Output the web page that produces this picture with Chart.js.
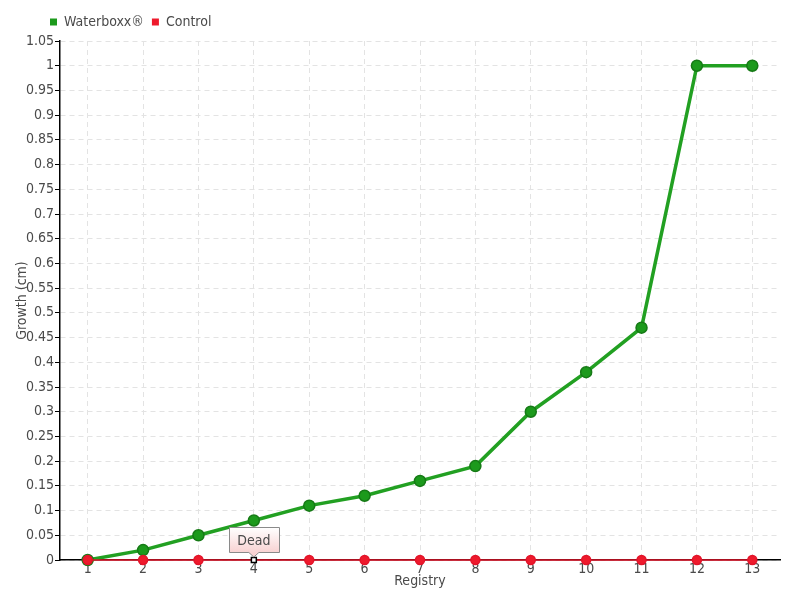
<!DOCTYPE html>
<html>
<head>
<meta charset="utf-8">
<script src="https://cdn.jsdelivr.net/npm/chart.js@4/dist/chart.umd.min.js"></script>
<style>
  html, body { margin: 0; padding: 0; background: #fff; }
  #wrap { width: 800px; height: 600px; }
</style>
</head>
<body>
<div id="wrap"><canvas id="myChart" width="800" height="600"></canvas></div>
<script>
let registry = ['1', '2', '3', '4', '5', '6', '7', '8', '9', '10', '11', '12', '13'];
let waterboxx = [0, 0.02, 0.05, 0.08, 0.11, 0.13, 0.16, 0.19, 0.30, 0.38, 0.47, 1.0, 1.0];
let control = [0, 0, 0, 0, 0, 0, 0, 0, 0, 0, 0, 0, 0];
let deadIndex = 3;
let deadLabel = 'Dead';

const FONT = '"DejaVu Sans Condensed", "Liberation Sans Narrow", sans-serif';
const TEXT = '#4a4a4a';

// white square marker where the control plant died
let controlStyles = control.map((v, i) => i === deadIndex ? 'rect' : 'circle');
let controlFill = control.map((v, i) => i === deadIndex ? '#ffffff' : '#ee1a2c');
let controlBorder = control.map((v, i) => i === deadIndex ? '#000000' : '#e3142a');
let controlRadius = control.map((v, i) => i === deadIndex ? 3.5 : 4.5);

// callout box above the dead point
const deadNote = {
    id: 'deadNote',
    afterLayout(chart) {
        // legend sits a bit in from the left edge
        let lg = chart.legend;
        if (lg) { lg.left += 28; lg.right += 28; lg.top -= 2; lg.bottom -= 2; }
    },
    afterDatasetsDraw(chart) {
        let pt = chart.getDatasetMeta(1).data[deadIndex];
        if (!pt) return;
        let ctx = chart.ctx;
        let w = 50, h = 25;
        let x0 = Math.round(pt.x - w / 2) + 0.5;
        let y1 = Math.round(pt.y - 8) + 0.5;
        let y0 = y1 - h;
        ctx.save();
        let grad = ctx.createLinearGradient(0, y0, 0, y1);
        grad.addColorStop(0, '#ffffff');
        grad.addColorStop(1, '#f8d2d2');
        ctx.beginPath();
        ctx.moveTo(x0, y0);
        ctx.lineTo(x0 + w, y0);
        ctx.lineTo(x0 + w, y1);
        ctx.lineTo(pt.x + 5, y1);
        ctx.lineTo(pt.x, pt.y - 3);
        ctx.lineTo(pt.x - 5, y1);
        ctx.lineTo(x0, y1);
        ctx.closePath();
        ctx.fillStyle = grad;
        ctx.fill();
        ctx.strokeStyle = '#8a8a8a';
        ctx.lineWidth = 1;
        ctx.stroke();
        ctx.fillStyle = TEXT;
        ctx.font = '14px ' + FONT;
        ctx.textAlign = 'center';
        ctx.textBaseline = 'middle';
        ctx.fillText(deadLabel, pt.x, y0 + h / 2 + 1);
        ctx.restore();
    }
};

let ctx = document.getElementById('myChart').getContext('2d');
let chart = new Chart(ctx, {
    type: 'line',
    data: {
        labels: registry,
        datasets: [{
            label: 'Waterboxx®',
            data: waterboxx,
            borderColor: '#22a022',
            backgroundColor: '#1c9a1c',
            pointBackgroundColor: '#1c9a1c',
            pointBorderColor: '#167a16',
            pointBorderWidth: 1.5,
            pointRadius: 5.5,
            borderWidth: 3.5,
            tension: 0,
            clip: 10,
            order: 2
        }, {
            label: 'Control',
            data: control,
            borderColor: '#e3142a',
            backgroundColor: '#ee1a2c',
            pointBackgroundColor: controlFill,
            pointBorderColor: controlBorder,
            pointBorderWidth: 1.5,
            pointRadius: controlRadius,
            pointStyle: controlStyles,
            borderWidth: 1.5,
            tension: 0,
            clip: 10,
            order: 1
        }]
    },
    options: {
        responsive: false,
        animation: false,
        layout: { padding: { left: 14, right: 20, top: 9, bottom: 0 } },
        plugins: {
            tooltip: { enabled: false },
            legend: {
                position: 'top',
                align: 'start',
                labels: {
                    font: { family: FONT, size: 14 },
                    color: TEXT,
                    boxWidth: 7,
                    boxHeight: 7,
                    padding: 8,
                    generateLabels(chart) {
                        let items = Chart.defaults.plugins.legend.labels.generateLabels(chart);
                        items.forEach(it => { it.lineWidth = 0; });
                        return items.sort((a, b) => a.datasetIndex - b.datasetIndex);
                    }
                }
            }
        },
        scales: {
            x: {
                offset: true,
                grid: {
                    offset: false,
                    color: '#e3e3e3',
                    drawTicks: false
                },
                border: { color: '#000', width: 1.5, dash: [5, 4] },
                ticks: {
                    font: { family: FONT, size: 14 },
                    color: TEXT,
                    padding: 1,
                    maxRotation: 0
                },
                title: {
                    display: true,
                    text: 'Registry',
                    font: { family: FONT, size: 14 },
                    color: TEXT,
                    padding: { top: 0, bottom: 10 }
                },
                afterFit(scale) { scale.height = 40; }
            },
            y: {
                min: 0,
                max: 1.05,
                grid: {
                    color: '#e3e3e3',
                    tickColor: '#000',
                    tickLength: 5
                },
                border: { color: '#000', width: 1.5, dash: [5, 4] },
                ticks: {
                    stepSize: 0.05,
                    font: { family: FONT, size: 14 },
                    color: TEXT,
                    padding: 1,
                    callback: v => Math.round(v * 100) / 100
                },
                title: {
                    display: true,
                    text: 'Growth (cm)',
                    font: { family: FONT, size: 14 },
                    color: TEXT,
                    padding: 0
                },
                afterFit(scale) { scale.width = 46; }
            }
        }
    },
    plugins: [deadNote]
});
</script>
</body>
</html>
